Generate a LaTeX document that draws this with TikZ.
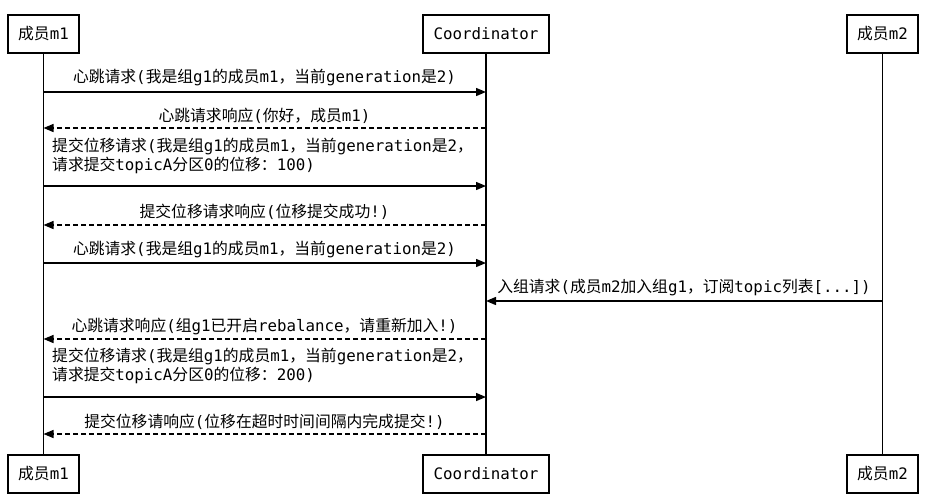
\documentclass[tikz,border=0pt]{standalone}
\usepackage{fontspec}
\setmainfont{DejaVu Sans Mono}
\newfontfamily\cjkf[Scale=1.0]{Noto Sans CJK SC}
\newcommand\zh[1]{{\cjkf #1}}
\usetikzlibrary{arrows.meta}
\tikzset{
  actor/.style={draw=black, line width=2pt, fill=white, minimum height=38pt, inner sep=0pt},
  lifeline/.style={line width=1.6pt},
  msg/.style={line width=1.4pt, -{Triangle[length=10pt,width=8pt]}},
  reply/.style={msg, dash pattern=on 5pt off 3pt},
  lbl/.style={inner sep=0pt, anchor=center},
  lbll/.style={inner sep=0pt, anchor=west, align=left},
}
\begin{document}
\begin{tikzpicture}[x=1pt,y=-1pt,font=\fontsize{15.8}{19.5}\selectfont]
\useasboundingbox (0,0) rectangle (926,499);
% actors
\node[actor, minimum width=71pt] (m1top) at (43.5,34) {\zh{成员}m1};
\node[actor, minimum width=126pt] (cotop) at (486,34) {Coordinator};
\node[actor, minimum width=71pt] (m2top) at (882.5,34) {\zh{成员}m2};
\node[actor, minimum width=71pt] (m1bot) at (43.5,474) {\zh{成员}m1};
\node[actor, minimum width=126pt] (cobot) at (486,474) {Coordinator};
\node[actor, minimum width=71pt] (m2bot) at (882.5,474) {\zh{成员}m2};
% lifelines
\draw[lifeline] (m1top.south) -- (m1bot.north);
\draw[lifeline] (cotop.south) -- (cobot.north);
\draw[lifeline] (m2top.south) -- (m2bot.north);
% message rows
\coordinate (r1) at (0,92);
\coordinate (r2) at (0,128);
\coordinate (r3) at (0,186);
\coordinate (r4) at (0,225);
\coordinate (r5) at (0,263);
\coordinate (r6) at (0,301);
\coordinate (r7) at (0,339);
\coordinate (r8) at (0,397);
\coordinate (r9) at (0,434);
% 1
\draw[msg] (m1top.south |- r1) -- (cotop.south |- r1);
\node[lbl] (l1) at (264.5,78) {\zh{心跳请求}(\zh{我是组}g1\zh{的成员}m1\zh{，当前}generation\zh{是}2)};
% 2
\draw[reply] (cotop.south |- r2) -- (m1top.south |- r2);
\node[lbl] (l2) at (264.5,116) {\zh{心跳请求响应}(\zh{你好，成员}m1)};
% 3
\draw[msg] (m1top.south |- r3) -- (cotop.south |- r3);
\node[lbll] (l3) at (52,156) {\zh{提交位移请求}(\zh{我是组}g1\zh{的成员}m1\zh{，当前}generation\zh{是}2\zh{，}\\\zh{请求提交}topicA\zh{分区}0\zh{的位移：}100)};
% 4
\draw[reply] (cotop.south |- r4) -- (m1top.south |- r4);
\node[lbl] (l4) at (264.5,212) {\zh{提交位移请求响应}(\zh{位移提交成功}!)};
% 5
\draw[msg] (m1top.south |- r5) -- (cotop.south |- r5);
\node[lbl] (l5) at (264.5,250) {\zh{心跳请求}(\zh{我是组}g1\zh{的成员}m1\zh{，当前}generation\zh{是}2)};
% 6
\draw[msg] (m2top.south |- r6) -- (cotop.south |- r6);
\node[lbl] (l6) at (684,288) {\zh{入组请求}(\zh{成员}m2\zh{加入组}g1\zh{，订阅}topic\zh{列表}[...])};
% 7
\draw[reply] (cotop.south |- r7) -- (m1top.south |- r7);
\node[lbl] (l7) at (264.5,326) {\zh{心跳请求响应}(\zh{组}g1\zh{已开启}rebalance\zh{，请重新加入}!)};
% 8
\draw[msg] (m1top.south |- r8) -- (cotop.south |- r8);
\node[lbll] (l8) at (52,366) {\zh{提交位移请求}(\zh{我是组}g1\zh{的成员}m1\zh{，当前}generation\zh{是}2\zh{，}\\\zh{请求提交}topicA\zh{分区}0\zh{的位移：}200)};
% 9
\draw[reply] (cotop.south |- r9) -- (m1top.south |- r9);
\node[lbl] (l9) at (264.5,422) {\zh{提交位移请响应}(\zh{位移在超时时间间隔内完成提交}!)};
\end{tikzpicture}
\end{document}
